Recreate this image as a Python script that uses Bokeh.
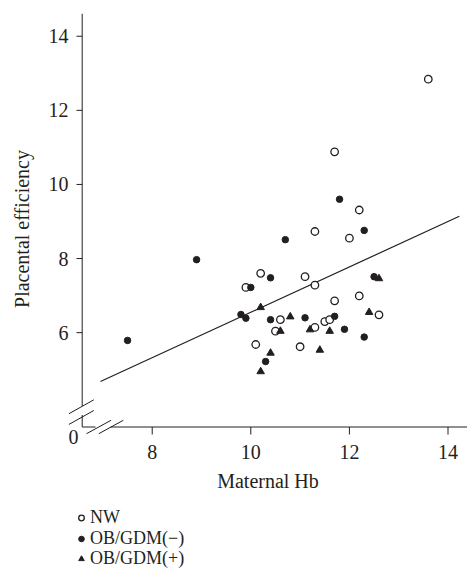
from bokeh.plotting import figure
from bokeh.models import FixedTicker, Legend, LegendItem
from bokeh.layouts import column
from bokeh.core.properties import value
from bokeh.embed import file_html
from bokeh.resources import INLINE

# ---- data ----
nw_hb = [13.6, 11.7, 12.2, 11.3, 12.0, 10.2, 11.1, 9.9, 11.3, 11.7, 12.2, 10.6, 11.5, 11.6, 12.6, 10.5, 11.3, 10.1, 11.0]
nw_pe = [12.84, 10.88, 9.31, 8.73, 8.55, 7.60, 7.51, 7.22, 7.28, 6.86, 6.99, 6.35, 6.30, 6.35, 6.48, 6.04, 6.14, 5.68, 5.62]

obn_hb = [11.8, 12.3, 10.7, 8.9, 10.4, 12.5, 10.0, 9.8, 9.9, 10.4, 11.1, 11.7, 11.9, 12.3, 7.5, 10.3]
obn_pe = [9.60, 8.76, 8.51, 7.97, 7.48, 7.51, 7.22, 6.49, 6.39, 6.35, 6.40, 6.44, 6.09, 5.88, 5.79, 5.22]

obp_hb = [12.6, 10.2, 10.8, 12.4, 10.6, 11.2, 11.6, 10.4, 11.4, 10.2]
obp_pe = [7.46, 6.68, 6.43, 6.55, 6.04, 6.08, 6.04, 5.45, 5.53, 4.95]

fit_x = [6.95, 14.23]
fit_y = [4.68, 9.14]

x_ticks = [8, 10, 12, 14]
y_ticks = [6, 8, 10, 12, 14]
series_names = ["NW", "OB/GDM(\u2212)", "OB/GDM(+)"]

INK = "#231f20"
FONT = "Liberation Serif"

# frame geometry (pixels)
W, H = 468, 500
ML, MR, MT, MB = 68, 1, 13, 56
FW = W - ML - MR
FH = H - MT - MB

X0 = 6.302
X1 = X0 + FW / 49.3
Y0 = 2.981
Y1 = Y0 + FH / 37.05
sx = FW / (X1 - X0)
sy = FH / (Y1 - Y0)

# axis corner (drawn inside the frame so the breaks are not clipped)
XA = X0 + 13.7 / sx
YA = Y0 + 17.5 / sy
X_END = X1 - 0.4 / sx

p = figure(width=W, height=H, x_range=(X0, X1), y_range=(Y0, Y1),
           output_backend="svg", toolbar_location=None,
           min_border_left=ML, min_border_right=MR, min_border_top=MT, min_border_bottom=MB)
p.grid.visible = False
p.outline_line_color = None

for ax in (p.xaxis[0], p.yaxis[0]):
    ax.axis_line_color = None
    ax.major_tick_line_color = None
    ax.minor_tick_line_color = None
    ax.major_tick_in = 0
    ax.major_tick_out = 0
    ax.major_label_text_font = FONT
    ax.major_label_text_font_size = "20px"
    ax.major_label_text_color = INK
    ax.axis_label_text_font = FONT
    ax.axis_label_text_font_size = "20px"
    ax.axis_label_text_font_style = "normal"
    ax.axis_label_text_color = INK

p.xaxis.ticker = FixedTicker(ticks=x_ticks)
p.yaxis.ticker = FixedTicker(ticks=y_ticks)
p.xaxis.major_label_standoff = 0
p.yaxis.major_label_standoff = 0
p.xaxis.axis_label = "Maternal Hb"
p.yaxis.axis_label = "Placental efficiency"
p.xaxis.axis_label_standoff = 8
p.yaxis.axis_label_standoff = 13

# --- axis lines with breaks, ticks (decorations drawn in the frame) ---
seg_x0, seg_y0, seg_x1, seg_y1 = [], [], [], []
def seg(xa, ya, xb, yb):
    seg_x0.append(xa); seg_y0.append(ya); seg_x1.append(xb); seg_y1.append(yb)

# y axis: stub + main part
seg(XA, YA, XA, YA + 12 / sy)
seg(XA, YA + 21 / sy, XA, Y1)
# x axis: stub + main part
seg(XA, YA, XA + 13.3 / sx, YA)
seg(XA + 28.3 / sx, YA, X_END, YA)
# break slashes on the y axis
for d in (2.5, 13.2):
    seg(XA - 13.4 / sx, YA + d / sy, XA + 11.6 / sx, YA + (d + 14) / sy)
# break slashes on the x axis
for d in (4.3, 16.6):
    seg(XA + d / sx, YA - 6.7 / sy, XA + (d + 24.5) / sx, YA + 6.7 / sy)
# ticks
for t in y_ticks:
    seg(XA - 5.7 / sx, t, XA, t)
for t in x_ticks:
    seg(t, YA, t, YA - 7.5 / sy)

p.segment(seg_x0, seg_y0, seg_x1, seg_y1, line_color=INK, line_width=1)

# the "0" below the break
p.text(x=[XA - 8.7 / sx], y=[YA - 10 / sy], text=["0"], text_font=value(FONT),
       text_font_size="20px", text_color=INK, text_align="center", text_baseline="middle")

# regression line
p.line(fit_x, fit_y, line_color=INK, line_width=1.2)

mk_nw = dict(marker="circle", size=7.5, fill_color="white", line_color=INK, line_width=1.3)
mk_obn = dict(marker="circle", size=6.5, fill_color=INK, line_color=INK, line_width=1)
mk_obp = dict(marker="triangle", size=7.5, fill_color=INK, line_color=INK, line_width=1)

p.scatter(nw_hb, nw_pe, **mk_nw)
p.scatter(obn_hb, obn_pe, **mk_obn)
p.scatter(obp_hb, obp_pe, **mk_obp)

# ---- legend in its own strip below the chart (its frame aligns with the chart's frame) ----
LH = 78
q = figure(width=W, height=LH, x_range=(0, 1), y_range=(0, 1),
           output_backend="svg", toolbar_location=None,
           x_axis_location=None, y_axis_location=None,
           min_border_left=0, min_border_right=0, min_border_top=0, min_border_bottom=0)
q.grid.visible = False
q.outline_line_color = None
# proxy renderers (their single points lie outside this strip's ranges, only the legend shows them)
l_nw = q.scatter(nw_hb[:1], nw_pe[:1], **mk_nw)
l_obn = q.scatter(obn_hb[:1], obn_pe[:1], **mk_obn)
l_obp = q.scatter(obp_hb[:1], obp_pe[:1], **mk_obp)

legend_rows = [(series_names[0], l_nw, 50), (series_names[1], l_obn, 29), (series_names[2], l_obp, 9)]
for name, rend, vy in legend_rows:
    lg = Legend(items=[LegendItem(label=name, renderers=[rend])],
                location=(6, vy), orientation="vertical",
                label_text_font=FONT, label_text_font_size="18px", label_text_color=INK,
                glyph_width=14, glyph_height=19, label_height=19, spacing=0,
                label_standoff=2, padding=0, margin=0,
                border_line_color=None, background_fill_color=None)
    q.add_layout(lg, "center")

layout = column(p, q, spacing=0)
open("out.html", "w").write(file_html(layout, INLINE))
